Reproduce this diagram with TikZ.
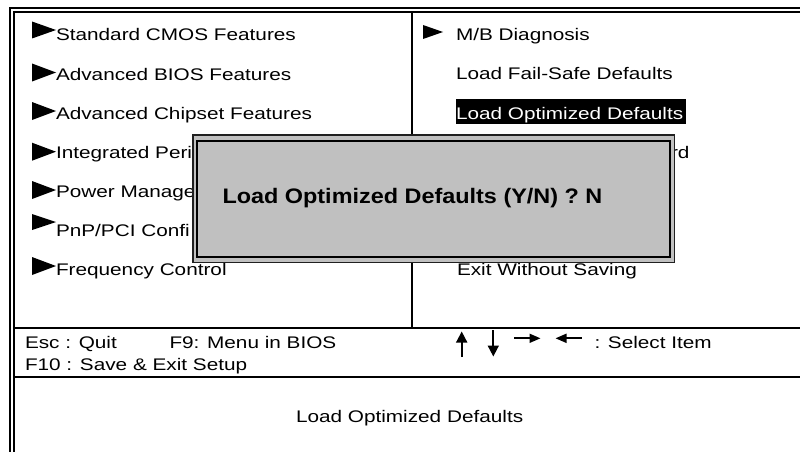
\documentclass[tikz,border=0pt]{standalone}
\usepackage{fontspec}
\setmainfont{Liberation Sans}[FakeStretch=1.235]
\newfontfamily\dlgfont{Liberation Sans}[FakeStretch=1.115]
\usetikzlibrary{arrows.meta}
\definecolor{dlggray}{HTML}{C0C0C0}
\definecolor{dlgedge}{HTML}{202020}
\begin{document}
\begin{tikzpicture}[x=1pt,y=-1pt,
  txt/.style={anchor=base west,inner sep=0pt,outer sep=0pt,font=\fontsize{16.8}{20}\selectfont},
  frameout/.style={line width=2pt},
  framein/.style={line width=1.7pt},
  divider/.style={line width=2pt},
  keyarrow/.style={line width=1.7pt,-{Triangle[length=11pt,width=11pt]}},
  keyarrowh/.style={line width=1.7pt,-{Triangle[length=11pt,width=9pt]}},
  menutri/.style={fill=black}
]
\useasboundingbox[fill=white] (0,0) rectangle (800,452);

% outer double frame (top and left, cut at right and bottom)
\coordinate (oBL) at (9.8,452);
\coordinate (oTL) at (9.8,8.3);
\coordinate (oTR) at (800,8.3);
\coordinate (iBL) at (14.2,452);
\coordinate (iTL) at (14.2,12.3);
\coordinate (iTR) at (800,12.3);
\draw[frameout] (oBL) -- (oTL) -- (oTR);
\draw[framein] (iBL) -- (iTL) -- (iTR);

% dividers
\coordinate (vT) at (411.7,12.3);
\coordinate (vB) at (411.7,327.7);
\draw[divider] (vT) -- (vB);
\coordinate (h1L) at (14.2,327.7);
\coordinate (h1R) at (800,327.7);
\coordinate (h2L) at (14.2,377.3);
\coordinate (h2R) at (800,377.3);
\draw[divider] (h1L) -- (h1R);
\draw[divider] (h2L) -- (h2R);

% left menu triangles
\fill[menutri] (32,21.5) -- (32,38.5) -- (56,30) -- cycle;
\fill[menutri] (32,63.5) -- (32,81.5) -- (56,72.5) -- cycle;
\fill[menutri] (32,102) -- (32,120) -- (56,111) -- cycle;
\fill[menutri] (32,142.7) -- (32,160.7) -- (56,151.7) -- cycle;
\fill[menutri] (32,181) -- (32,199) -- (56,190) -- cycle;
\fill[menutri] (32,214) -- (32,230) -- (56,222) -- cycle;
\fill[menutri] (32,257) -- (32,275) -- (56,266) -- cycle;
% right menu triangle
\fill[menutri] (423,25) -- (423,39) -- (443,32) -- cycle;

% left menu items
\node[txt] (l1) at (56,40.7) {Standard CMOS Features};
\node[txt] (l2) at (56,80.5) {Advanced BIOS Features};
\node[txt] (l3) at (56,119.3) {Advanced Chipset Features};
\node[txt] (l4) at (56,158.3) {Integrated Peri};
\node[txt] (l5) at (56,197.5) {Power Manage};
\node[txt] (l6) at (56,236.5) {PnP/PCI Confi};
\node[txt] (l7) at (56,275.3) {Frequency Control};

% right menu items
\node[txt] (r1) at (456,40.3) {M/B Diagnosis};
\node[txt] (r2) at (456,79.3) {Load Fail-Safe Defaults};
\node[fill=black,minimum width=230pt,minimum height=25.3pt,inner sep=0pt,outer sep=0pt,anchor=north west] (hl) at (456,98.7) {};
\node[txt,text=white] (r3) at (456,119.2) {Load Optimized Defaults};
\node[txt] (r4) at (671,158.3) {rd};
\node[txt] (r7) at (457,275.3) {Exit Without Saving};

% key help
\node[txt] (esc) at (25,348.3) {Esc : Quit};
\node[txt] (f9) at (169.5,348.3) {F9: Menu in BIOS};
\node[txt] (f10) at (25,370) {F10 : Save \& Exit Setup};
\coordinate (upB) at (461.7,357);
\coordinate (upT) at (461.7,331.5);
\coordinate (dnT) at (493.3,330);
\coordinate (dnB) at (493.3,356.5);
\coordinate (rtL) at (514,338.3);
\coordinate (rtR) at (540.5,338.3);
\coordinate (ltR) at (581.7,338.3);
\coordinate (ltL) at (555.5,338.3);
\draw[keyarrow] (upB) -- (upT);
\draw[keyarrow] (dnT) -- (dnB);
\draw[keyarrowh] (rtL) -- (rtR);
\draw[keyarrowh] (ltR) -- (ltL);
\node[txt] (sel) at (594.5,348.3) {: Select Item};

% help line
\node[txt] (help) at (296,422) {Load Optimized Defaults};

% dialog box
\node[draw=dlgedge,line width=1.5pt,fill=dlggray,minimum width=481.9pt,minimum height=127.7pt,inner sep=0pt,outer sep=0pt,anchor=north west] (dlgout) at (192.8,134.8) {};
\node[draw=black,line width=2pt,fill=dlggray,minimum width=472.5pt,minimum height=116.2pt,inner sep=0pt,outer sep=0pt,anchor=north west] (dlgin) at (197,141) {};
\node[anchor=base west,inner sep=0pt,outer sep=0pt,font=\dlgfont\bfseries\fontsize{21}{24}\selectfont] (msg) at (222.5,203.3) {Load Optimized Defaults (Y/N) ? N};
\end{tikzpicture}
\end{document}
